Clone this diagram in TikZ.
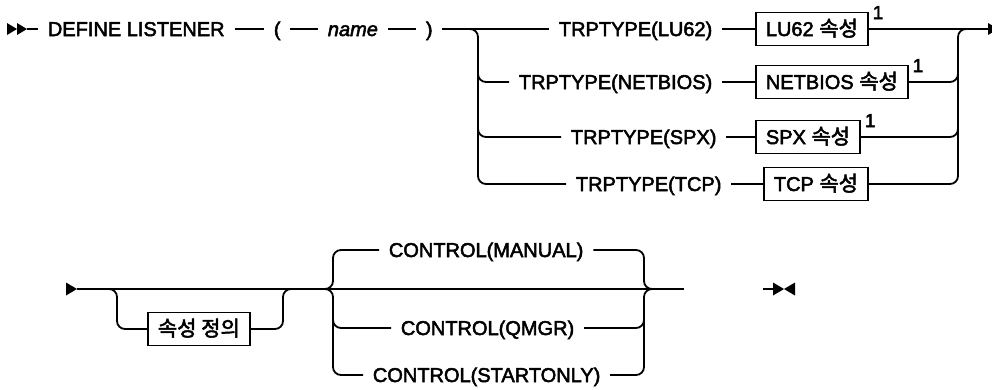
\documentclass[tikz,border=0pt]{standalone}
\usepackage{fontspec}
\setmainfont{Liberation Sans}[FakeBold=2.5]
\newfontfamily\kofont{Noto Sans CJK KR}[FakeBold=2.5,Scale=1.05]

\begin{document}
\begin{tikzpicture}[x=1pt,y=-1pt,line width=1.8pt]
\tikzset{kw/.style={inner xsep=9pt,inner ysep=2pt,text height=14pt,text depth=0pt,
    font=\fontsize{20}{24}\selectfont},
  attr/.style={draw,inner xsep=10pt,minimum height=33pt,text height=14pt,text depth=0pt,
    font=\fontsize{20}{24}\selectfont},
  note/.style={inner sep=1pt,font=\fontsize{19}{20}\selectfont},
  rail/.style={rounded corners=8pt}}
\useasboundingbox (0,0) rectangle (992,389);
% ---------- first line ----------
\fill (7,23) -- (17,29) -- (7,35) -- cycle;
\fill (17,23) -- (27,29) -- (17,35) -- cycle;
\coordinate (start) at (27,29);
\node[kw,right] (define) at (38,29) {DEFINE LISTENER};
\node[kw,right] (lp) at (264,29) {(};
\node[kw,right] (name) at (318,29) {\itshape name};
\node[kw,right] (rp) at (416,29) {)};
\draw (start) -- (define.west);
\draw (define.east) -- (lp.west);
\draw (lp.east) -- (name.west);
\draw (name.east) -- (rp.west);
% transport types
\node[kw,right] (lu62) at (549,29) {TRPTYPE(LU62)};
\node[kw,right] (netbios) at (509,82) {TRPTYPE(NETBIOS)};
\node[kw,right] (spx) at (561,137) {TRPTYPE(SPX)};
\node[kw,right] (tcp) at (566,184) {TRPTYPE(TCP)};
\node[attr,right] (lu62at) at (755,29) {LU62 {\kofont 속성}};
\node[attr,right] (netbiosat) at (755,82) {NETBIOS {\kofont 속성}};
\node[attr,right] (spxat) at (755,137) {SPX {\kofont 속성}};
\node[attr,right] (tcpat) at (763,184) {TCP {\kofont 속성}};
\node[note,right] (fn1) at ([xshift=2pt,yshift=-1pt]lu62at.north east) {1};
\node[note,right] (fn2) at ([xshift=2pt,yshift=-1pt]netbiosat.north east) {1};
\node[note,right] (fn3) at ([xshift=2pt,yshift=-1pt]spxat.north east) {1};
\coordinate (forkin) at (470,29);
\coordinate (forkout) at (988,29);
\draw (rp.east) -- (lu62.west);
\draw[rail] (forkin) -| (478,184) -- (tcp.west);
\draw[rail] (478,70) |- (netbios.west);
\draw[rail] (478,125) |- (spx.west);
\draw (lu62.east) -- (lu62at.west);
\draw (netbios.east) -- (netbiosat.west);
\draw (spx.east) -- (spxat.west);
\draw (tcp.east) -- (tcpat.west);
\draw (lu62at.east) -- (forkout);
\draw[rail] (tcpat.east) -| (958,29) -- (966,29);
\draw[rail] (netbiosat.east) -| (958,74);
\draw[rail] (spxat.east) -| (958,129);
\fill (988,23) -- (998,29) -- (988,35) -- cycle;
% ---------- second line ----------
\fill (66,282.5) -- (77,289) -- (66,295.5) -- cycle;
\coordinate (start2) at (77,289);
\coordinate (end2) at (684,289);
\draw (start2) -- (end2);
\node[attr,right] (attrdef) at (147,329) {\kofont 속성 정의};
\draw[rail] (108,289) -| (117,329) -- (attrdef.west);
\draw[rail] (attrdef.east) -| (283,289) -- (291,289);
\node[kw,right] (manual) at (379,250) {CONTROL(MANUAL)};
\node[kw,right] (qmgr) at (391,328) {CONTROL(QMGR)};
\node[kw,right] (startonly) at (363,375) {CONTROL(STARTONLY)};
\draw[rail] (325,289) -| (333,250) -- (manual.west);
\draw[rail] (325,289) -| (333,375) -- (startonly.west);
\draw[rail] (333,316) |- (qmgr.west);
\draw[rail] (manual.east) -| (644,289) -- (653,289);
\draw[rail] (startonly.east) -| (644,289) -- (653,289);
\draw[rail] (qmgr.east) -| (644,316);
% end mark
\coordinate (stop) at (773,289);
\draw (763,289) -- (stop);
\fill (773,282.5) -- (784,289) -- (773,295.5) -- cycle;
\fill (795,282.5) -- (784,289) -- (795,295.5) -- cycle;
\end{tikzpicture}
\end{document}
